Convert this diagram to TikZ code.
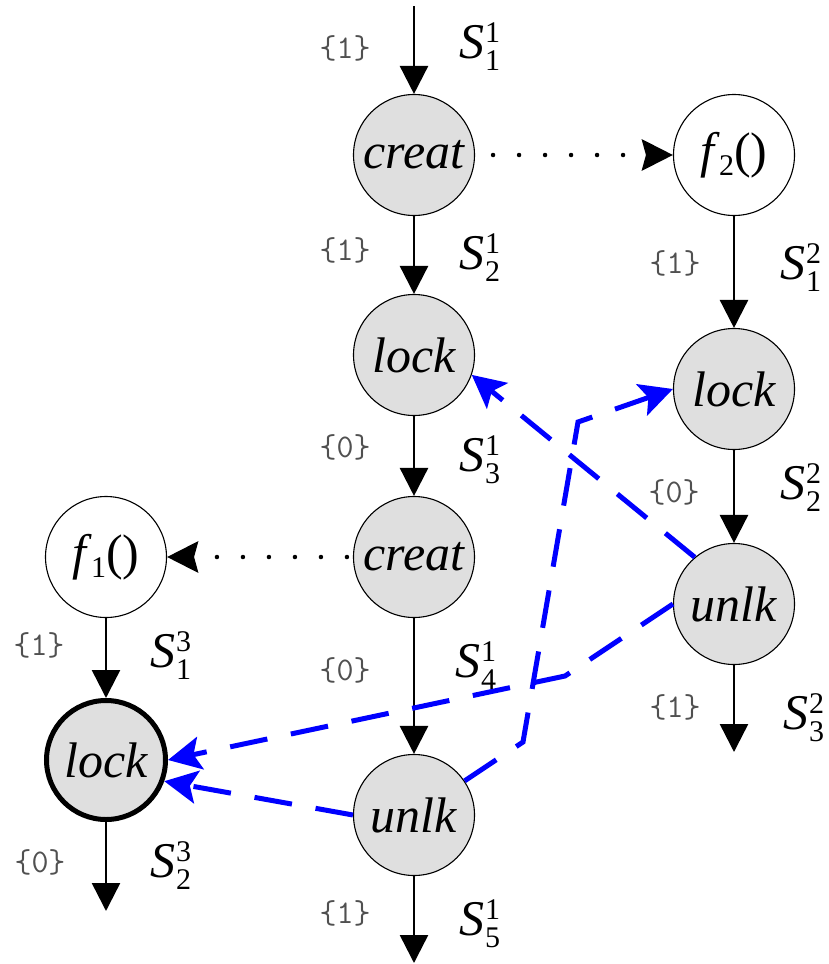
\documentclass[tikz,border=0pt]{standalone}
\usepackage{fontspec}
\setmainfont{Liberation Serif}
\usetikzlibrary{arrows.meta}
\definecolor{nodegray}{RGB}{223,223,223}
\definecolor{tagcol}{RGB}{80,80,80}

% S with a subscript (#1) and a superscript (#2)
\newcommand\Slab[2]{\textit{S}\kern1pt\makebox[0pt][l]{\raisebox{16pt}{\fontsize{30}{30}\selectfont #2}}\raisebox{-12pt}{\fontsize{30}{30}\selectfont #1}}
% function call f_i()
\newcommand\fcall[1]{\textit{f}\kern-1pt\raisebox{-8pt}{\fontsize{30}{30}\selectfont #1}()}

\begin{document}
\begin{tikzpicture}[x=1pt,y=-1pt,
  evt/.style={circle,draw,line width=1.1pt,fill=nodegray,minimum size=121pt,inner sep=0pt,
              font=\fontsize{50}{50}\selectfont\itshape},
  fn/.style={evt,fill=white,font=\fontsize{50}{50}\selectfont},
  flow/.style={line width=2.5pt,-{Triangle[length=28pt,width=28pt]}},
  spawn/.style={line width=4.5pt,line cap=round,dash pattern=on 0pt off 26pt,
                -{Stealth[length=31pt,width=31pt,inset=4pt]}},
  sync/.style={blue,line width=5pt,dash pattern=on 38pt off 24pt,
               -{Stealth[length=33pt,width=33pt,inset=7pt]}},
  tag/.style={font=\fontsize{33}{33}\selectfont\ttfamily,text=tagcol,inner sep=0pt},
  slab/.style={anchor=west,inner sep=0pt,font=\fontsize{50}{50}\selectfont}
]
\useasboundingbox (0,0) rectangle (828,964);

% thread 1 (middle column)
\node[evt] (c1) at (414,155) {creat};
\node[evt] (l1) at (414,355) {lock};
\node[evt] (c2) at (414,557) {creat};
\node[evt] (u1) at (414,815) {unlk};
% thread 2 (right column)
\node[fn]  (f2) at (734,155) {\fcall{2}};
\node[evt] (l2) at (734,389) {lock};
\node[evt] (u2) at (734,604) {unlk};
% thread 3 (left column)
\node[fn]  (f1) at (106,557) {\fcall{1}};
\node[evt,line width=5pt,minimum size=119pt] (l3) at (106,760) {lock};

% free ends of the thread arrows
\coordinate (in1)  at (414,6);
\coordinate (out1) at (414,963);
\coordinate (out2) at (734,752);
\coordinate (out3) at (106,911);

% control flow
\draw[flow] (in1) -- (c1);
\draw[flow] (c1) -- (l1);
\draw[flow] (l1) -- (c2);
\draw[flow] (c2) -- (u1);
\draw[flow] (u1) -- (out1);
\draw[flow] (f2) -- (l2);
\draw[flow] (l2) -- (u2);
\draw[flow] (u2) -- (out2);
\draw[flow] (f1) -- (l3);
\draw[flow] (l3) -- (out3);

% thread creation
\draw[spawn,dash phase=8pt]  (c1.east) -- (f2.west);
\draw[spawn,dash phase=20pt] (c2.west) -- (f1.east);

% lock/unlock ordering
\coordinate (k1) at (523,742);
\coordinate (k2) at (578,422);
\coordinate (k3) at (565,676);
\draw[sync] (u2.130) -- (l1.-19);
\draw[sync] (u1.34) -- (k1) -- (k2) -- (l2.west);
\draw[sync] (u2.west) -- (k3) -- (l3.east);
\draw[sync] (u1.west) -- (l3.-20);

% lockset tags
\node[tag] (t11) at (345,48)  {\{1\}};
\node[tag] (t12) at (345,250) {\{1\}};
\node[tag] (t13) at (345,447) {\{0\}};
\node[tag] (t14) at (345,670) {\{0\}};
\node[tag] (t15) at (345,913) {\{1\}};
\node[tag] (t21) at (675,263) {\{1\}};
\node[tag] (t22) at (674,492) {\{0\}};
\node[tag] (t23) at (675,707) {\{1\}};
\node[tag] (t31) at (39,645)  {\{1\}};
\node[tag] (t32) at (40,862)  {\{0\}};

% states
\node[slab] (s11) at (459,47)  {\Slab{1}{1}};
\node[slab] (s12) at (459,258) {\Slab{2}{1}};
\node[slab] (s13) at (459,460) {\Slab{3}{1}};
\node[slab] (s14) at (455,666) {\Slab{4}{1}};
\node[slab] (s15) at (459,924) {\Slab{5}{1}};
\node[slab] (s21) at (780,268) {\Slab{1}{2}};
\node[slab] (s22) at (780,488) {\Slab{2}{2}};
\node[slab] (s23) at (783,718) {\Slab{3}{2}};
\node[slab] (s31) at (150,656) {\Slab{1}{3}};
\node[slab] (s32) at (150,866) {\Slab{2}{3}};
\end{tikzpicture}
\end{document}
